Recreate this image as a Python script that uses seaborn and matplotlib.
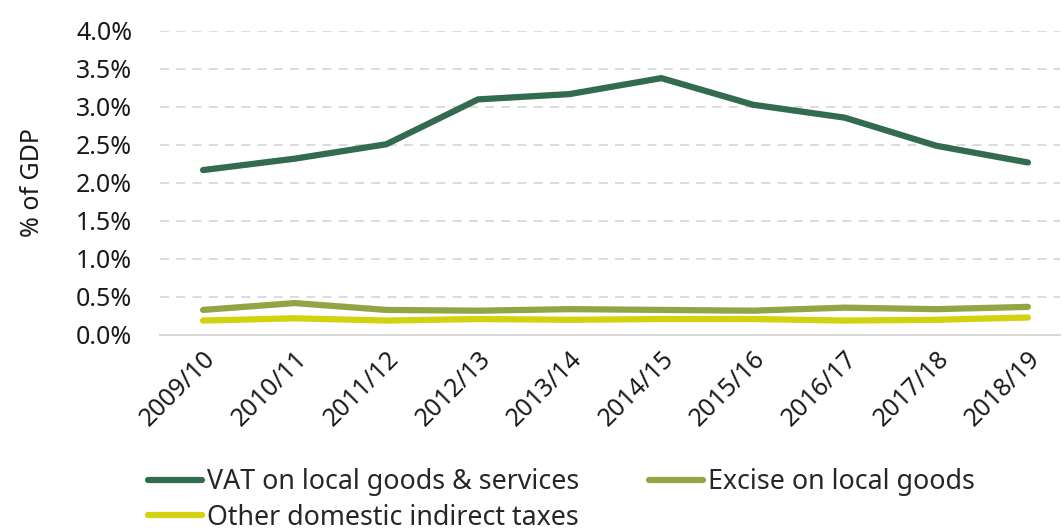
import matplotlib
matplotlib.use("Agg")
import matplotlib.pyplot as plt
import seaborn as sns
import pandas as pd
from matplotlib.ticker import FuncFormatter, MultipleLocator
from matplotlib.lines import Line2D

years = ["2009/10", "2010/11", "2011/12", "2012/13", "2013/14",
         "2014/15", "2015/16", "2016/17", "2017/18", "2018/19"]
vat = [2.17, 2.32, 2.51, 3.10, 3.17, 3.38, 3.03, 2.86, 2.49, 2.27]
excise = [0.33, 0.42, 0.33, 0.32, 0.34, 0.33, 0.32, 0.36, 0.34, 0.37]
other = [0.19, 0.22, 0.19, 0.21, 0.20, 0.21, 0.21, 0.19, 0.20, 0.23]
series_names = ["VAT on local goods & services", "Excise on local goods",
                "Other domestic indirect taxes"]
colors = ["#336B4F", "#93A445", "#D4D10F"]

df = pd.DataFrame({"year": years * 3,
                   "value": vat + excise + other,
                   "series": [series_names[0]] * 10 + [series_names[1]] * 10 + [series_names[2]] * 10})
df["x"] = list(range(10)) * 3

sns.set_theme(style="white")
plt.rcParams["font.family"] = ["Noto Sans", "DejaVu Sans"]

fig = plt.figure(figsize=(10.62, 5.30), dpi=100)
ax = fig.add_axes([160 / 1062, 1 - 335 / 530, 900 / 1062, 304 / 530])

sns.lineplot(data=df, x="x", y="value", hue="series", palette=colors,
             hue_order=series_names, linewidth=4.5, ax=ax, legend=False,
             solid_capstyle="round")

ax.set_xlim(-0.47, 9.35)
ax.set_ylim(0, 4.0)
ax.yaxis.set_major_locator(MultipleLocator(0.5))
ax.yaxis.set_major_formatter(FuncFormatter(lambda v, p: f"{v:.1f}%"))
ax.set_xticks(range(10))
ax.set_xticklabels(years, rotation=45, ha="right", rotation_mode="anchor")
ax.tick_params(axis="both", labelsize=18, colors="#1a1a1a", length=0)
ax.tick_params(axis="x", pad=8)
ax.tick_params(axis="y", pad=20)
ax.grid(axis="y", color="#d9d9d9", linestyle=(0, (5, 4)), linewidth=1.3)
ax.set_axisbelow(True)
for s in ["left", "right", "top"]:
    ax.spines[s].set_visible(False)
ax.spines["bottom"].set_color("#d9d9d9")
ax.spines["bottom"].set_linewidth(1.5)
ax.set_xlabel("")
ax.set_ylabel("% of GDP", fontsize=18, color="#1a1a1a", labelpad=22)

order = [0, 2, 1]
handles = [Line2D([0], [0], color=colors[i], linewidth=4.5, solid_capstyle="round") for i in order]
labels = [series_names[i] for i in order]
fig.legend(handles, labels, loc="upper left", bbox_to_anchor=(148 / 1062, 1 - 468 / 530),
           ncol=2, frameon=False, fontsize=19.3, handlelength=2.0, handletextpad=0.2,
           columnspacing=2.6, labelspacing=0.28, borderaxespad=0, borderpad=0)

fig.savefig("out.png", dpi=100)
